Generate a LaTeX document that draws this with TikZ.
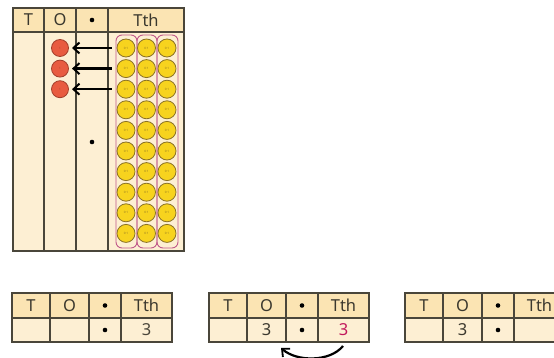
\documentclass[tikz,border=0pt]{standalone}
\usepackage{fontspec}
\setmainfont{Noto Sans}
\usetikzlibrary{arrows.meta}
\definecolor{hdr}{HTML}{FBE4B3}
\definecolor{bdy}{HTML}{FDEFD3}
\definecolor{gridc}{HTML}{4A463A}
\definecolor{redc}{HTML}{E85B40}
\definecolor{redo}{HTML}{A33F2C}
\definecolor{yelc}{HTML}{F7D31E}
\definecolor{yelo}{HTML}{8A7226}
\definecolor{pinkl}{HTML}{C0588A}
\definecolor{mag}{HTML}{C2185B}
\newcommand\ptable[5]{%
  % #1 x, #2 name, #3 O entry, #4 Tth entry, #5 Tth colour
  \fill[bdy] (#1,293) rectangle ++(160,49);
  \fill[hdr] (#1,293) rectangle ++(160,25);
  \draw[gl] (#1,293) rectangle ++(160,49);
  \draw[gl] (#1,318) -- ++(160,0);
  \draw[gl] (#1+38,293) -- ++(0,49);
  \draw[gl] (#1+77,293) -- ++(0,49);
  \draw[gl] (#1+109,293) -- ++(0,49);
  \node[txt] (#2hT) at (#1+19,305.5) {T};
  \node[txt] (#2hO) at (#1+57.5,305.5) {O};
  \node[dotc] (#2hD) at (#1+93,305.5) {};
  \node[txt] (#2hTth) at (#1+134.5,305.5) {Tth};
  \node[txt] (#2O) at (#1+57.5,330) {#3};
  \node[dotc] (#2D) at (#1+93,330) {};
  \node[txt,text=#5] (#2Tth) at (#1+134.5,330) {#4};
}
\begin{document}
\begin{tikzpicture}[x=1pt,y=-1pt,
  gl/.style={draw=gridc,line width=1.2pt},
  txt/.style={font=\fontsize{16.5}{17}\selectfont,text=gridc!80!black,inner sep=0pt},
  dotc/.style={circle,fill=black,minimum size=4.6pt,inner sep=0pt},
  redcoin/.style={circle,fill=redc,draw=redo,line width=0.8pt,minimum size=17pt,inner sep=0pt,font=\fontsize{3}{3}\selectfont,text=redo},
  yelcoin/.style={circle,fill=yelc,draw=yelo,line width=0.8pt,minimum size=18pt,inner sep=0pt,font=\fontsize{3}{3}\selectfont,text=yelo},
  grp/.style={draw=pinkl,line width=0.9pt,rounded corners=6pt},
  arr/.style={line width=2.6pt,-{Straight Barb[length=6pt,width=11pt,line width=2pt]}},
  curv/.style={line width=2.2pt,-{Straight Barb[length=6pt,width=11pt,line width=1.8pt]}}]
\useasboundingbox (0,0) rectangle (554,358);
\clip (0,0) rectangle (554,358);
% main place-value table
\fill[bdy] (13,8) rectangle (184,251);
\fill[hdr] (13,8) rectangle (184,32);
\draw[gl] (13,8) rectangle (184,251);
\draw[gl] (13,32) -- (184,32);
\draw[gl] (44,8) -- (44,251);
\draw[gl] (76,8) -- (76,251);
\draw[gl] (108,8) -- (108,251);
\node[txt] (mT) at (28.5,20) {T};
\node[txt] (mO) at (60,20) {O};
\node[dotc] (mD) at (92,20) {};
\node[txt] (mTth) at (146,20) {Tth};
\node[dotc] (mDot) at (92,142) {};
% groups of ten
\draw[grp] (116,35) rectangle (137,248);
\draw[grp] (137,35) rectangle (157,248);
\draw[grp] (157,35) rectangle (178,248);
% tenths counters
\foreach \c/\xx in {1/126,2/146.5,3/167}{
  \foreach \r in {0,...,9}{
    \node[yelcoin] (y\c\r) at (\xx,48+20.6*\r) {0·1};
  }
}
% ones counters
\foreach \r in {0,1,2}{
  \node[redcoin] (r\r) at (60,48+20.6*\r) {1};
  \coordinate (s\r) at (111.5,48+20.6*\r);
  \coordinate (e\r) at (72,48+20.6*\r);
  \draw[arr] (s\r) -- (e\r);
}
% bottom tables
\ptable{12}{a}{}{3}{gridc}
\ptable{209}{b}{3}{3}{mag}
\ptable{405}{c}{3}{}{gridc}
% exchange arrow
\coordinate (ca) at (343,346);
\coordinate (cb) at (281,348);
\draw[curv] (ca) .. controls (330,362) and (297,362) .. (cb);
\end{tikzpicture}
\end{document}
